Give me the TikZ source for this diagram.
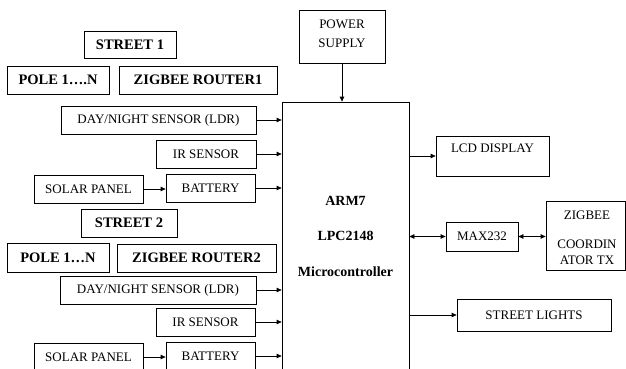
\documentclass[tikz,border=0pt]{standalone}
\usepackage{fontspec}
\setmainfont{Liberation Serif}
\usetikzlibrary{arrows.meta}
\begin{document}
\begin{tikzpicture}[x=1pt,y=-1pt,
  box/.style={draw, line width=0.75pt, inner sep=0pt},
  nt/.style={font=\fontsize{13}{15}\selectfont},
  bt/.style={font=\fontsize{14.5}{17}\selectfont\bfseries},
  arr/.style={line width=0.75pt,-{Triangle[length=5pt,width=4.5pt]}},
  darr/.style={line width=0.75pt,{Triangle[length=5pt,width=4.5pt]}-{Triangle[length=5pt,width=4.5pt]}}]
\useasboundingbox (0,0) rectangle (626,369);
\clip (0,0) rectangle (626,369);
% street 1
\node[box,bt,minimum width=92pt,minimum height=27pt] (st1) at (130,44.5) {STREET 1};
\node[box,bt,minimum width=102pt,minimum height=28pt] (pole1) at (58,80) {POLE 1….N};
\node[box,bt,minimum width=158pt,minimum height=28pt] (zr1) at (198,80) {ZIGBEE ROUTER1\hspace{8pt}};
\node[box,nt,minimum width=195pt,minimum height=28pt] (dn1) at (158.5,120) {DAY/NIGHT SENSOR (LDR)};
\node[box,nt,minimum width=100pt,minimum height=28pt] (ir1) at (206,154) {IR SENSOR\hspace{8pt}};
\node[box,nt,minimum width=109pt,minimum height=28pt] (sol1) at (88.5,189) {SOLAR PANEL\hspace{5pt}};
\node[box,nt,minimum width=89pt,minimum height=28pt] (bat1) at (210.5,188) {BATTERY\hspace{18pt}};
% street 2
\node[box,bt,minimum width=96pt,minimum height=28pt] (st2) at (129,223) {STREET 2};
\node[box,bt,minimum width=102pt,minimum height=29pt] (pole2) at (58,257.5) {POLE 1…N};
\node[box,bt,minimum width=159pt,minimum height=28pt] (zr2) at (196.5,258) {ZIGBEE ROUTER2\hspace{8pt}};
\node[box,nt,minimum width=196pt,minimum height=28pt] (dn2) at (158,290) {DAY/NIGHT SENSOR (LDR)};
\node[box,nt,minimum width=99pt,minimum height=28pt] (ir2) at (205.5,322) {IR SENSOR\hspace{8pt}};
\node[box,nt,minimum width=109pt,minimum height=28pt] (sol2) at (88.5,357) {SOLAR PANEL\hspace{5pt}};
\node[box,nt,minimum width=89pt,minimum height=28pt] (bat2) at (210.5,356) {BATTERY\hspace{18pt}};
% microcontroller
\node[box,minimum width=127pt,minimum height=272pt] (mcu) at (345.5,238) {};
\node[font=\fontsize{14}{35.5}\selectfont\bfseries,align=center] (mcut) at (345.5,236) {ARM7\\LPC2148\\Microcontroller};
\node[box,minimum width=86pt,minimum height=53pt] (ps) at (342,36.5) {};
\node[font=\fontsize{13}{19}\selectfont,align=center] (pst) at (342,33.5) {POWER\\SUPPLY};
% right side
\node[box,minimum width=113pt,minimum height=40pt] (lcd) at (492.5,156) {};
\node[nt] (lcdt) at (492.5,148) {LCD DISPLAY};
\node[box,nt,minimum width=72pt,minimum height=29pt] (max) at (482,236.5) {MAX232};
\node[box,minimum width=79pt,minimum height=69pt] (zig) at (585.5,235.5) {};
\node[align=center,font=\fontsize{13}{16}\selectfont] (zigt) at (587,237.5) {ZIGBEE\\[13pt]COORDIN\\ATOR TX};
\node[box,nt,minimum width=154pt,minimum height=32pt] (sl) at (534,315) {STREET LIGHTS};
% connectors
\draw[arr] (dn1.east) -- (dn1.east -| mcu.west);
\draw[arr] (ir1.east) -- (ir1.east -| mcu.west);
\draw[arr] (bat1.east) -- (bat1.east -| mcu.west);
\draw[arr] (sol1.east) -- (sol1.east -| bat1.west);
\draw[arr] (dn2.east) -- (dn2.east -| mcu.west);
\draw[arr] (ir2.east) -- (ir2.east -| mcu.west);
\draw[arr] (bat2.east) -- (bat2.east -| mcu.west);
\draw[arr] (sol2.east) -- (sol2.east -| bat2.west);
\draw[arr] (ps.south) -- (ps.south |- mcu.north);
\draw[arr] (mcu.east |- lcd.west) -- (lcd.west);
\draw[darr] (mcu.east |- max.west) -- (max.west);
\draw[darr] (max.east) -- (max.east -| zig.west);
\draw[arr] (mcu.east |- sl.west) -- (sl.west);
\end{tikzpicture}
\end{document}
